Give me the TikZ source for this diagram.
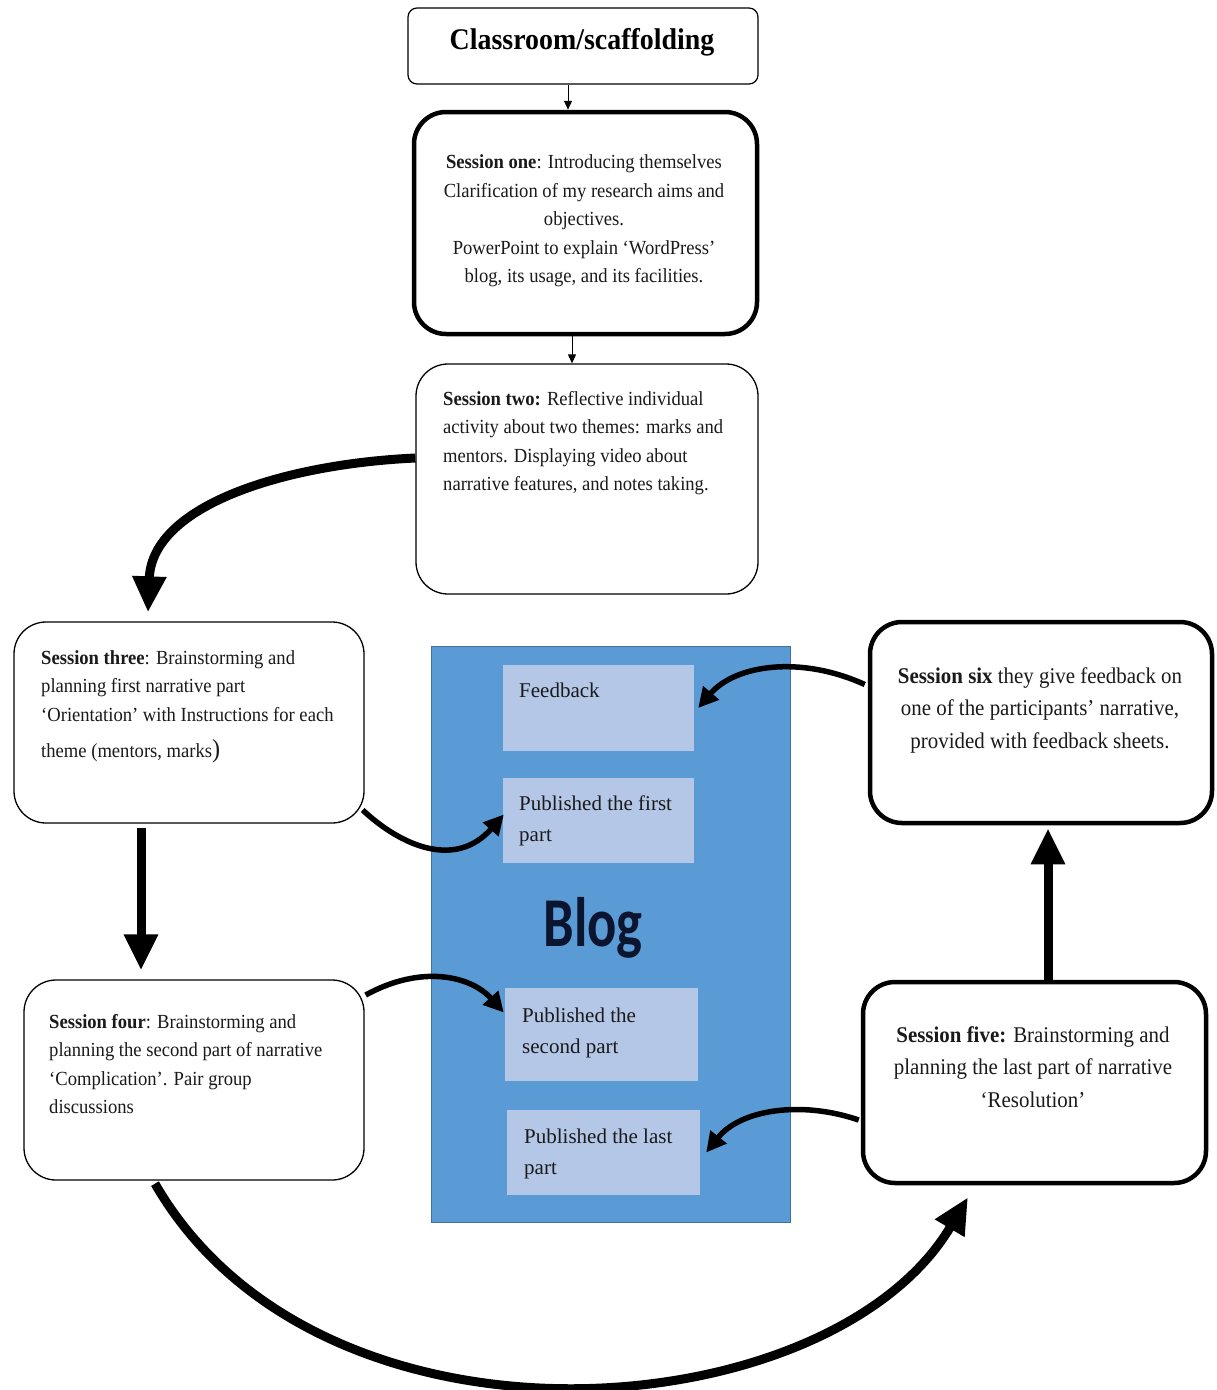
\documentclass[tikz,border=0pt]{standalone}
\usepackage{fontspec}
\setmainfont{Liberation Serif}[FakeStretch=0.93]
\newfontfamily\postfont{Liberation Serif}
\newfontfamily\blogfont{Carlito}[FakeStretch=0.78]
\usetikzlibrary{arrows.meta}
\definecolor{blogblue}{HTML}{5B9BD5}
\definecolor{blogedge}{HTML}{41719C}
\definecolor{paleblue}{HTML}{B4C7E7}
\definecolor{inktext}{HTML}{1A1A1A}
\definecolor{blogink}{HTML}{0B1530}
\begin{document}
\begin{tikzpicture}[x=1pt,y=-1pt,
  thinbox/.style={draw, line width=1.3pt, rounded corners=32pt, inner sep=0pt, fill=white},
  thickbox/.style={draw, line width=4.5pt, rounded corners=32pt, inner sep=0pt, fill=white},
  bodytext/.style={inner sep=0pt, text=inktext, font=\fontsize{20}{28.5}\selectfont},
  widetext/.style={inner sep=0pt, text=inktext, font=\fontsize{22.5}{32.5}\selectfont},
  postbox/.style={fill=paleblue, inner sep=0pt},
  posttext/.style={inner sep=0pt, text=inktext, font=\postfont\fontsize{21}{31}\selectfont, align=left, anchor=north west},
  thinarrow/.style={line width=1pt, -{Triangle[length=9pt,width=8pt]}},
  bigarrow/.style={line width=9pt, -{Triangle[length=36pt,width=32pt]}},
  midarrow/.style={line width=5.5pt, -{Triangle[length=20pt,width=20pt]}}
]
\useasboundingbox (0,0) rectangle (1216,1390);

% header
\node[draw, line width=1.2pt, rounded corners=9pt, minimum width=350pt, minimum height=76pt, inner sep=0pt] (top) at (583,46) {};
\node[inner sep=0pt, font=\fontsize{30}{33}\selectfont\bfseries] (toptext) at (582,42) {Classroom/scaffolding};

% session boxes
\node[thickbox, minimum width=343pt, minimum height=222pt] (s1) at (585.5,223) {};
\node[bodytext, align=center] (s1text) at (584,221)
  {\textbf{Session one}: Introducing themselves\\
   Clarification of my research aims and\\
   objectives.\\
   PowerPoint to explain ‘WordPress’\\
   blog, its usage, and its facilities.};

\node[thinbox, minimum width=342pt, minimum height=230pt] (s2) at (587,479) {};
\node[bodytext, align=left, anchor=north west] (s2text) at (443,391)
  {\textbf{Session two:} Reflective individual\\
   activity about two themes: marks and\\
   mentors. Displaying video about\\
   narrative features, and notes taking.};

\node[thinbox, minimum width=350pt, minimum height=201pt] (s3) at (189,722.5) {};
\node[bodytext, align=left, anchor=north west] (s3text) at (41,650)
  {\textbf{Session three}: Brainstorming and\\
   planning first narrative part\\
   ‘Orientation’ with Instructions for each\\[8pt]
   theme (mentors, marks{\fontsize{26}{28}\selectfont)}};

\node[thinbox, minimum width=340pt, minimum height=200pt] (s4) at (194,1080) {};
\node[bodytext, align=left, anchor=north west] (s4text) at (49,1014)
  {\textbf{Session four}: Brainstorming and\\
   planning the second part of narrative\\
   ‘Complication’. Pair group\\
   discussions};

\node[thickbox, minimum width=343pt, minimum height=201pt] (s5) at (1034.5,1082.5) {};
\node[widetext, align=center] (s5text) at (1033,1067)
  {\textbf{Session five:} Brainstorming and\\
   planning the last part of narrative\\
   ‘Resolution’};

\node[thickbox, minimum width=342pt, minimum height=201pt] (s6) at (1041,722.5) {};
\node[widetext, align=center] (s6text) at (1040,710)
  {\textbf{Session six} they give feedback on\\
   one of the participants’ narrative,\\
   provided with feedback sheets.};

% blog panel
\node[fill=blogblue, draw=blogedge, line width=1pt, minimum width=359pt, minimum height=576pt, inner sep=0pt] (blog) at (610.5,934) {};
\node[inner sep=0pt, font=\blogfont\fontsize{70}{72}\selectfont\bfseries, text=blogink] (blogtext) at (593,928) {Blog};

\node[postbox, minimum width=191pt, minimum height=86pt] (feed) at (598.5,708) {};
\node[posttext] (feedtext) at (519,683) {Feedback};
\node[postbox, minimum width=191pt, minimum height=85pt] (pub1) at (598.5,820.5) {};
\node[posttext] (pub1text) at (519,796) {Published the first\\part};
\node[postbox, minimum width=193pt, minimum height=93pt] (pub2) at (601.5,1034.5) {};
\node[posttext] (pub2text) at (522,1008) {Published the\\second part};
\node[postbox, minimum width=193pt, minimum height=85pt] (pub3) at (603.5,1152.5) {};
\node[posttext] (pub3text) at (524,1129) {Published the last\\part};

% vertical flow
\draw[thinarrow] ([xshift=-15pt]top.south) -- ([xshift=-17.5pt]s1.north);
\draw[thinarrow] ([xshift=-13.5pt]s1.south) -- ([xshift=-15pt]s2.north);
\draw[bigarrow] ([yshift=21pt]s2.west) .. controls (285,464) and (152,505) .. ([xshift=-41pt,yshift=9pt]s3.north);
\draw[bigarrow] ([xshift=-48pt,yshift=-4pt]s3.south) -- ([xshift=-53pt,yshift=9pt]s4.north);
\draw[bigarrow] ([xshift=-39pt,yshift=-3pt]s4.south) .. controls (320,1470) and (830,1430) .. ([xshift=-66.5pt,yshift=-12pt]s5.south);
\draw[bigarrow] ([xshift=13.5pt]s5.north) -- ([xshift=7pt,yshift=-3pt]s6.south);

% links into the blog
\draw[midarrow] ([xshift=-2pt,yshift=-87.5pt]s3.east) .. controls (400,845) and (455,870) .. ([xshift=1pt,yshift=6pt]pub1.west);
\draw[midarrow] ([xshift=1pt,yshift=85pt]s4.east) .. controls (420,965) and (470,975) .. ([xshift=-1pt,yshift=22pt]pub2.west);
\draw[midarrow] ([xshift=-3pt,yshift=38pt]s6.west) .. controls (800,655) and (735,665) .. ([xshift=4pt]feed.east);
\draw[midarrow] ([xshift=-2pt,yshift=-37.5pt]s5.west) .. controls (800,1100) and (740,1110) .. ([xshift=6pt]pub3.east);
\end{tikzpicture}
\end{document}
